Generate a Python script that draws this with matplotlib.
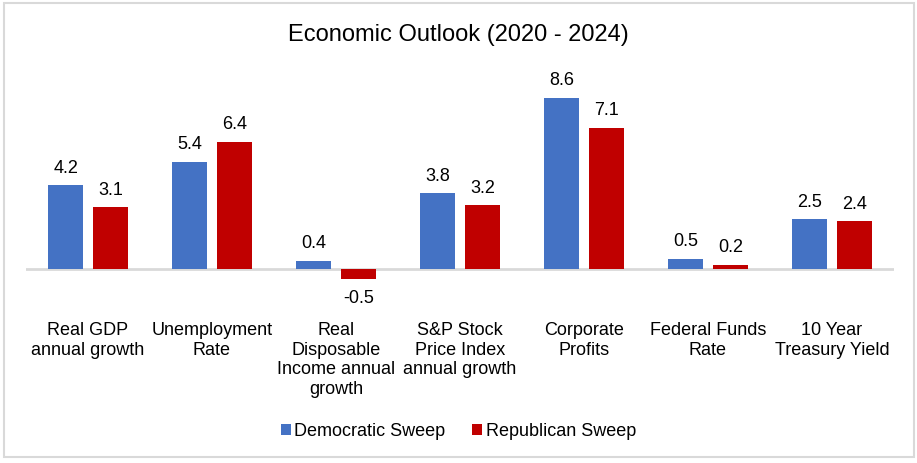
import numpy as np
import matplotlib.pyplot as plt
from matplotlib.patches import Rectangle

plt.rcParams['font.family'] = ['Liberation Sans', 'DejaVu Sans']

categories = [
    "Real GDP\nannual growth",
    "Unemployment\nRate",
    "Real\nDisposable\nIncome annual\ngrowth",
    "S&P Stock\nPrice Index\nannual growth",
    "Corporate\nProfits",
    "Federal Funds\nRate",
    "10 Year\nTreasury Yield",
]
democratic = [4.2, 5.4, 0.4, 3.8, 8.6, 0.5, 2.5]
republican = [3.1, 6.4, -0.5, 3.2, 7.1, 0.2, 2.4]

blue = '#4472C4'
red = '#C00000'

W, H = 917, 464
fig = plt.figure(figsize=(W / 100, H / 100), dpi=100)

# outer border
fig.patches.append(Rectangle((3.5 / W, 6 / H), 910 / W, 454 / H, transform=fig.transFigure,
                             fill=False, edgecolor='#D9D9D9', linewidth=1.5))

# axes: zero at y=269px, ~19.9 px per unit, ylim (-1, 10)
ax_left, ax_right = 26, 894
ax_top, ax_bottom = 71, 290
ax = fig.add_axes([ax_left / W, 1 - ax_bottom / H, (ax_right - ax_left) / W, (ax_bottom - ax_top) / H])
ax.set_ylim(-1, 10)
ax.set_xlim(-0.5, len(categories) - 0.5)
ax.axis('off')

x = np.arange(len(categories))
bw = 0.285
off = 0.18
ax.bar(x - off, democratic, bw, color=blue, label='Democratic Sweep')
ax.bar(x + off, republican, bw, color=red, label='Republican Sweep')
ax.axhline(0, color='#D9D9D9', linewidth=2, zorder=0)

for xi, v in zip(x, democratic):
    ax.annotate(f"{v:.1f}", (xi - off, v), xytext=(0, 7 if v >= 0 else -7), textcoords='offset points',
                ha='center', va='bottom' if v >= 0 else 'top', fontsize=13)
for xi, v in zip(x, republican):
    ax.annotate(f"{v:.1f}", (xi + off, v), xytext=(0, 7 if v >= 0 else -7), textcoords='offset points',
                ha='center', va='bottom' if v >= 0 else 'top', fontsize=13)

# category labels below the plot
label_top = 1 - (322 - ax_top) / (ax_bottom - ax_top)
for xi, c in zip(x, categories):
    ax.text(xi, label_top, c, transform=ax.get_xaxis_transform(), ha='center', va='top',
            fontsize=13, linespacing=1.2)

fig.text(0.5, 1 - 35 / H, "Economic Outlook (2020 - 2024)", ha='center', va='center', fontsize=17)

fig.legend(loc='center', bbox_to_anchor=(0.5, 1 - 432 / H), ncol=2, frameon=False,
           fontsize=13, handlelength=0.55, handleheight=0.55, handletextpad=0.2, columnspacing=1.5)

fig.savefig('out.png', dpi=100)
